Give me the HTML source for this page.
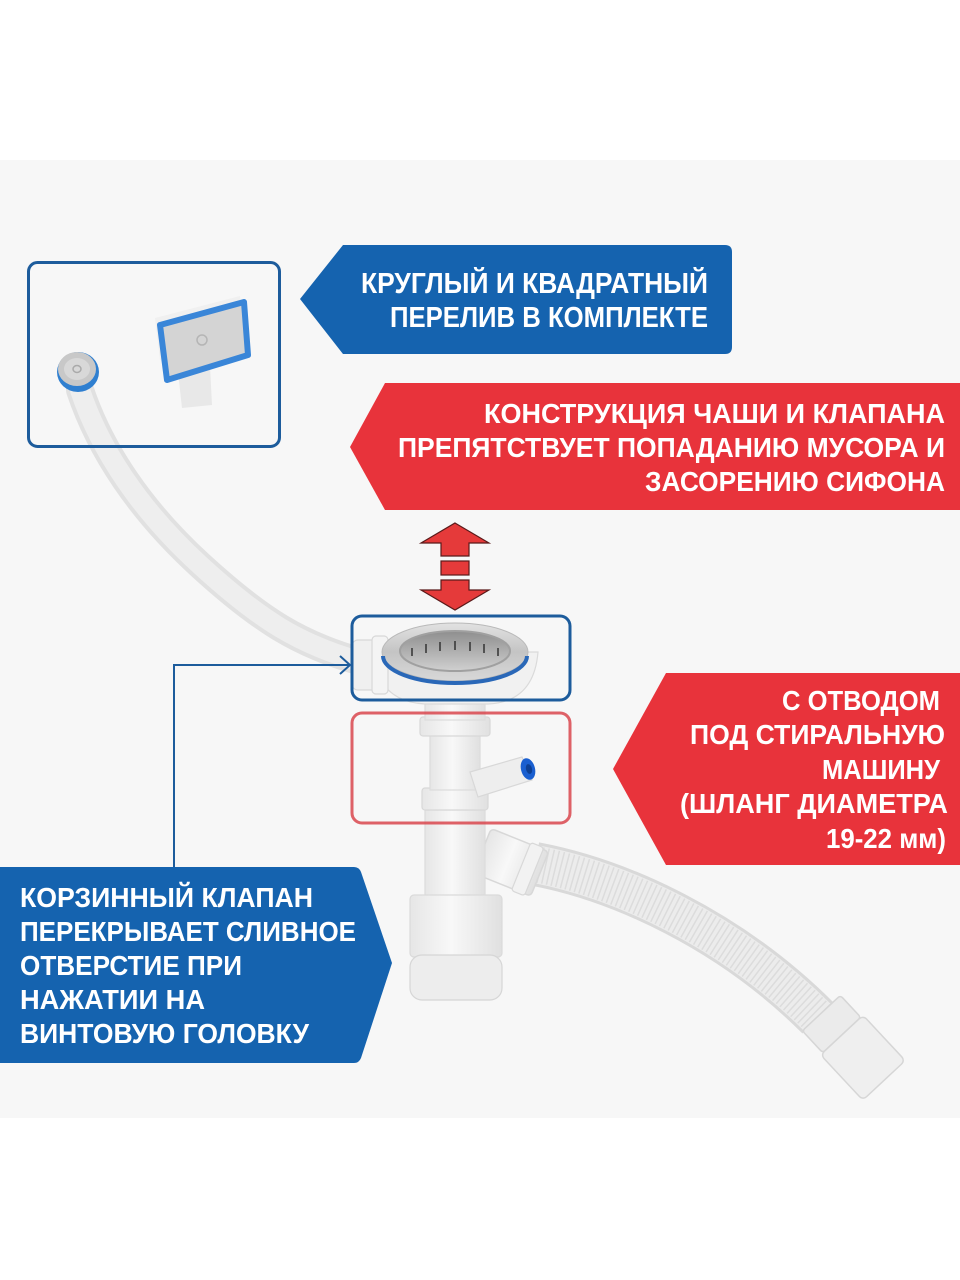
<!DOCTYPE html>
<html>
<head>
<meta charset="utf-8">
<style>
  html,body{margin:0;padding:0;background:#fff;}
  svg{display:block;}
  .t{font-family:"Liberation Sans","DejaVu Sans",sans-serif;font-weight:bold;fill:#fff;}
</style>
</head>
<body>
<svg width="960" height="1280" viewBox="0 0 960 1280" xmlns="http://www.w3.org/2000/svg">
  <defs>
    <linearGradient id="steel" x1="0" y1="0" x2="0" y2="1">
      <stop offset="0" stop-color="#e2e2e2"/>
      <stop offset="0.5" stop-color="#c4c4c4"/>
      <stop offset="1" stop-color="#d8d8d8"/>
    </linearGradient>
    <linearGradient id="basket" x1="0" y1="0" x2="0" y2="1">
      <stop offset="0" stop-color="#8e8e8e"/>
      <stop offset="1" stop-color="#d0d0d0"/>
    </linearGradient>
    <linearGradient id="pipe" x1="0" y1="0" x2="1" y2="0">
      <stop offset="0" stop-color="#e6e6e6"/>
      <stop offset="0.45" stop-color="#f8f8f8"/>
      <stop offset="1" stop-color="#e0e0e0"/>
    </linearGradient>
  </defs>

  <!-- background -->
  <rect x="0" y="0" width="960" height="1280" fill="#ffffff"/>
  <rect x="0" y="160" width="960" height="958" fill="#f7f7f7"/>

  <!-- ===== overflow hose ===== -->
  <path d="M 80 390 C 100 450, 140 510, 200 565 S 300 645, 362 662" fill="none" stroke="#e1e1e1" stroke-width="28" stroke-linecap="round"/>
  <path d="M 80 390 C 100 450, 140 510, 200 565 S 300 645, 362 662" fill="none" stroke="#eeeeee" stroke-width="20" stroke-linecap="round"/>

  <!-- round overflow -->
  <ellipse cx="78" cy="372" rx="21" ry="20" fill="#2f7fd0"/>
  <ellipse cx="77" cy="369" rx="19" ry="17" fill="#c8c8c8"/>
  <ellipse cx="77" cy="369" rx="13" ry="11" fill="#d8d8d8"/>
  <ellipse cx="77" cy="369" rx="4" ry="3.5" fill="none" stroke="#aaaaaa" stroke-width="1.5"/>

  <!-- square overflow -->
  <polygon points="178,372 210,366 212,405 182,408" fill="#e8e8e8"/>
  <polygon points="155,318 240,296 244,340 160,360" fill="#f0f0f0"/>
  <polygon points="160,325 244,302 248,355 167,380" fill="#d4d4d4" stroke="#3a86d8" stroke-width="6" stroke-linejoin="round"/>
  <circle cx="202" cy="340" r="5" fill="none" stroke="#b5b5b5" stroke-width="1.5"/>

  <!-- ===== siphon ===== -->
  <!-- corrugated hose -->
  <path d="M 535 864 C 620 880, 730 930, 818 1018" fill="none" stroke="#d9d9d9" stroke-width="44" stroke-linecap="butt"/>
  <path d="M 535 864 C 620 880, 730 930, 818 1018" fill="none" stroke="#ececec" stroke-width="38"/>
  <path d="M 535 864 C 620 880, 730 930, 818 1018" fill="none" stroke="#dcdcdc" stroke-width="36" stroke-dasharray="1.5 3.5"/>
  <!-- hose end fitting -->
  <g transform="translate(852,1046) rotate(47)">
    <rect x="-45" y="-26" width="30" height="52" rx="3" fill="#ebebeb" stroke="#d6d6d6" stroke-width="1.5"/>
    <rect x="-15" y="-29" width="62" height="58" rx="5" fill="#efefef" stroke="#d6d6d6" stroke-width="1.5"/>
  </g>
  <!-- outlet nut -->
  <g transform="translate(510,862) rotate(22)">
    <rect x="-30" y="-24" width="62" height="48" rx="4" fill="url(#pipe)" stroke="#d8d8d8" stroke-width="1.5"/>
    <rect x="12" y="-26" width="14" height="52" rx="3" fill="#f2f2f2" stroke="#d8d8d8" stroke-width="1.2"/>
  </g>

  <!-- vertical pipes -->
  <rect x="425" y="810" width="60" height="95" fill="url(#pipe)" stroke="#dcdcdc" stroke-width="1.2"/>
  <rect x="410" y="895" width="92" height="62" rx="4" fill="url(#pipe)" stroke="#dadada" stroke-width="1.2"/>
  <rect x="410" y="955" width="92" height="45" rx="12" fill="#ededed" stroke="#d6d6d6" stroke-width="1.2"/>
  <rect x="422" y="788" width="66" height="22" rx="3" fill="url(#pipe)" stroke="#d8d8d8" stroke-width="1.2"/>
  <rect x="430" y="735" width="50" height="55" fill="url(#pipe)" stroke="#dcdcdc" stroke-width="1.2"/>
  <!-- side branch -->
  <polygon points="470,772 522,757 532,780 478,797" fill="#eeeeee" stroke="#d8d8d8" stroke-width="1.2"/>
  <ellipse cx="528" cy="769" rx="7" ry="11" transform="rotate(-15 528 769)" fill="#1a5fd0"/>
  <ellipse cx="529" cy="769" rx="3" ry="5" transform="rotate(-15 529 769)" fill="#0d3f94"/>
  <rect x="420" y="717" width="70" height="19" rx="3" fill="url(#pipe)" stroke="#d8d8d8" stroke-width="1.2"/>
  <rect x="425" y="698" width="60" height="22" fill="url(#pipe)" stroke="#dcdcdc" stroke-width="1.2"/>

  <!-- drain body -->
  <path d="M 372 652 Q 378 702 425 704 L 488 704 Q 534 702 538 652 Z" fill="#f1f1f1" stroke="#dadada" stroke-width="1.2"/>
  <!-- left nozzle -->
  <rect x="352" y="640" width="32" height="50" rx="6" fill="#f0f0f0" stroke="#d8d8d8" stroke-width="1.2"/>
  <rect x="372" y="636" width="16" height="58" rx="4" fill="#f4f4f4" stroke="#d8d8d8" stroke-width="1.2"/>
  <!-- strainer -->
  <ellipse cx="455" cy="652" rx="73" ry="29" fill="url(#steel)" stroke="#b9b9b9" stroke-width="1"/>
  <path d="M 383 656 A 72 27 0 0 0 527 656" fill="none" stroke="#2a68b8" stroke-width="4"/>
  <ellipse cx="455" cy="651" rx="55" ry="20" fill="url(#basket)"/>
  <ellipse cx="455" cy="651" rx="55" ry="20" fill="none" stroke="#a0a0a0" stroke-width="2"/>
  <g stroke="#3a3a3a" stroke-width="1.6">
    <line x1="412" y1="648" x2="412" y2="656"/>
    <line x1="426" y1="644" x2="426" y2="653"/>
    <line x1="440" y1="642" x2="440" y2="651"/>
    <line x1="455" y1="641" x2="455" y2="650"/>
    <line x1="470" y1="642" x2="470" y2="651"/>
    <line x1="484" y1="644" x2="484" y2="653"/>
    <line x1="498" y1="648" x2="498" y2="656"/>
  </g>

  <!-- ===== highlight boxes ===== -->
  <rect x="28.5" y="262.5" width="251" height="184" rx="9" fill="none" stroke="#1d5c9c" stroke-width="3"/>
  <rect x="352" y="616" width="218" height="84" rx="10" fill="none" stroke="#1d5c9c" stroke-width="3"/>
  <rect x="352" y="713" width="218" height="110" rx="10" fill="none" stroke="#d9474e" stroke-opacity="0.85" stroke-width="3"/>

  <!-- connector line -->
  <polyline points="174,867 174,665 349,665" fill="none" stroke="#1d5c9c" stroke-width="2"/>
  <polyline points="340,656 350,665 340,674" fill="none" stroke="#1d5c9c" stroke-width="2"/>

  <!-- double arrow -->
  <g fill="#e53a3a" stroke="#5a1a1a" stroke-width="1.2" stroke-linejoin="miter">
    <polygon points="455,523 489,543 469,543 469,556 441,556 441,543 421,543"/>
    <rect x="441" y="561" width="28" height="14"/>
    <polygon points="441,580 469,580 469,590 489,590 455,610 421,590 441,590"/>
  </g>

  <!-- ===== labels ===== -->
  <!-- blue 1 -->
  <path d="M 343 245 L 725 245 Q 732 245 732 252 L 732 347 Q 732 354 725 354 L 343 354 L 300 299 Z" fill="#1563af"/>
  <text class="t" font-size="29" x="361" y="293" textLength="347" lengthAdjust="spacingAndGlyphs">КРУГЛЫЙ И КВАДРАТНЫЙ</text>
  <text class="t" font-size="29" x="390" y="327" textLength="318" lengthAdjust="spacingAndGlyphs">ПЕРЕЛИВ В КОМПЛЕКТЕ</text>

  <!-- red 1 -->
  <path d="M 385 383 L 960 383 L 960 510 L 385 510 L 350 447 Z" fill="#e8333b"/>
  <text class="t" font-size="28" x="484" y="423" textLength="461" lengthAdjust="spacingAndGlyphs">КОНСТРУКЦИЯ ЧАШИ И КЛАПАНА</text>
  <text class="t" font-size="28" x="398" y="457" textLength="547" lengthAdjust="spacingAndGlyphs">ПРЕПЯТСТВУЕТ ПОПАДАНИЮ МУСОРА И</text>
  <text class="t" font-size="28" x="645" y="491" textLength="300" lengthAdjust="spacingAndGlyphs">ЗАСОРЕНИЮ СИФОНА</text>

  <!-- red 2 -->
  <path d="M 666 673 L 960 673 L 960 865 L 666 865 L 613 769 Z" fill="#e8333b"/>
  <text class="t" font-size="28" x="782" y="710" textLength="158" lengthAdjust="spacingAndGlyphs">С ОТВОДОМ</text>
  <text class="t" font-size="28" x="690" y="744" textLength="255" lengthAdjust="spacingAndGlyphs">ПОД СТИРАЛЬНУЮ</text>
  <text class="t" font-size="28" x="822" y="779" textLength="118" lengthAdjust="spacingAndGlyphs">МАШИНУ</text>
  <text class="t" font-size="28" x="680" y="813" textLength="268" lengthAdjust="spacingAndGlyphs">(ШЛАНГ ДИАМЕТРА</text>
  <text class="t" font-size="28" x="826" y="848" textLength="120" lengthAdjust="spacingAndGlyphs">19-22 мм)</text>

  <!-- blue 3 -->
  <path d="M 0 867 L 354 867 Q 359 867 361 872 L 392 963 L 361 1058 Q 359 1063 354 1063 L 0 1063 Z" fill="#1563af"/>
  <text class="t" font-size="28" x="20" y="907" textLength="293" lengthAdjust="spacingAndGlyphs">КОРЗИННЫЙ КЛАПАН</text>
  <text class="t" font-size="28" x="20" y="941" textLength="336" lengthAdjust="spacingAndGlyphs">ПЕРЕКРЫВАЕТ СЛИВНОЕ</text>
  <text class="t" font-size="28" x="20" y="975" textLength="222" lengthAdjust="spacingAndGlyphs">ОТВЕРСТИЕ ПРИ</text>
  <text class="t" font-size="28" x="20" y="1009" textLength="185" lengthAdjust="spacingAndGlyphs">НАЖАТИИ НА</text>
  <text class="t" font-size="28" x="20" y="1043" textLength="289" lengthAdjust="spacingAndGlyphs">ВИНТОВУЮ ГОЛОВКУ</text>
</svg>
</body>
</html>
